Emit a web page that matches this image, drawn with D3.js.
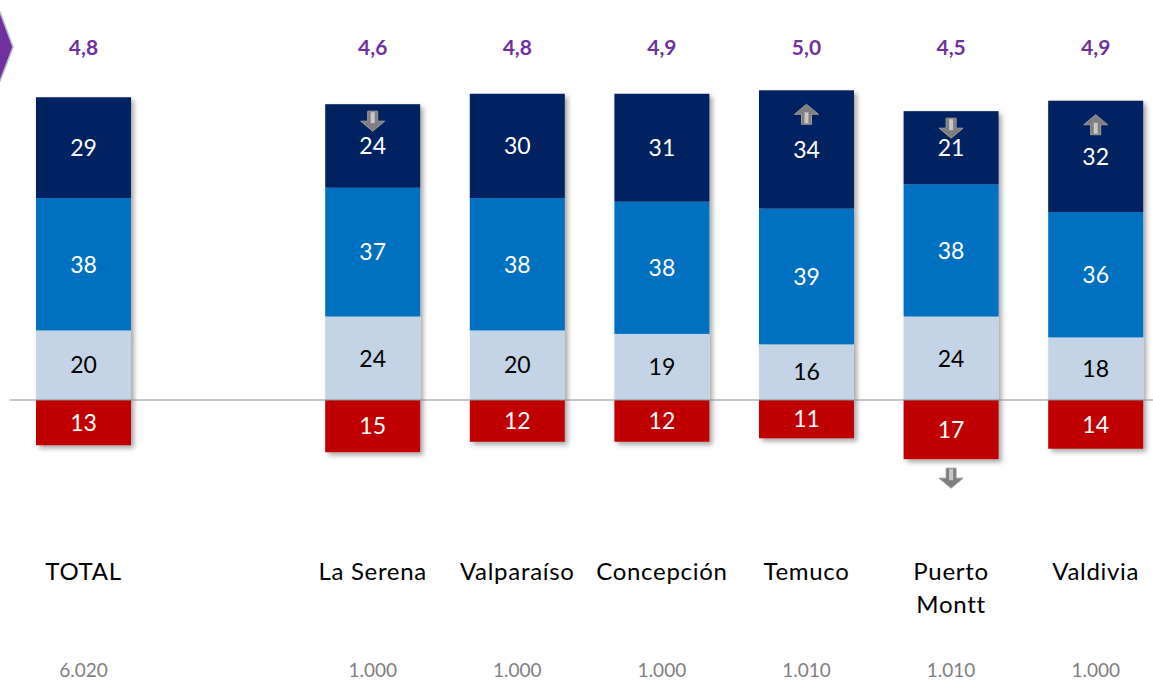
<!DOCTYPE html>
<html>
<head>
<meta charset="utf-8">
<script src="https://cdn.jsdelivr.net/npm/d3@7"></script>
<style>
  body { margin: 0; background: #fff; }
  svg { display: block; font-family: Lato, "Open Sans", sans-serif; }
</style>
</head>
<body>
<svg id="chart" width="1153" height="682"></svg>
<script>
// slots: "" is the empty gap after TOTAL
var slots = ['TOTAL', '', 'La Serena', 'Valparaíso', 'Concepción', 'Temuco', 'Puerto Montt', 'Valdivia'];
var categories = ['TOTAL', 'La Serena', 'Valparaíso', 'Concepción', 'Temuco', 'Puerto Montt', 'Valdivia'];
var catLines = [['TOTAL'], ['La Serena'], ['Valparaíso'], ['Concepción'], ['Temuco'], ['Puerto', 'Montt'], ['Valdivia']];
var negative = [13, 15, 12, 12, 11, 17, 14];
var lightPos = [20, 24, 20, 19, 16, 24, 18];
var midPos = [38, 37, 38, 38, 39, 38, 36];
var topPos = [29, 24, 30, 31, 34, 21, 32];
var means = ['4,8', '4,6', '4,8', '4,9', '5,0', '4,5', '4,9'];
var baseN = ['6.020', '1.000', '1.000', '1.000', '1.010', '1.010', '1.000'];
var topArrow = ['', 'down', '', '', 'up', 'down', 'up'];
var bottomArrow = ['', '', '', '', '', 'down', ''];

var colors = { neg: '#C00000', light: '#C3D4E6', mid: '#0070C0', top: '#002060' };

var svg = d3.select('#chart');
var x = d3.scaleBand().domain(slots).range([11.2, 1168]).paddingInner(49.6 / 144.6).paddingOuter(24.8 / 144.6);
var y = d3.scaleLinear().domain([0, 100]).range([400, 52]);

var defs = svg.append('defs');
var f = defs.append('filter').attr('id', 'shadow').attr('x', '-20%').attr('y', '-20%').attr('width', '150%').attr('height', '150%');
f.append('feDropShadow').attr('dx', 3).attr('dy', 3).attr('stdDeviation', 2.5).attr('flood-color', '#000').attr('flood-opacity', 0.35);

// purple chevron on the left edge
svg.append('path')
  .attr('d', 'M-20,12 L0,12 L13,47 L0,81 L-20,81 Z')
  .attr('fill', '#7030A0')
  .attr('stroke', '#b9b9c9')
  .attr('stroke-width', 1.5);

// build segments
var segs = [];
categories.forEach(function(c, i) {
  segs.push({ cat: c, y0: -negative[i], y1: 0, v: negative[i], color: colors.neg, text: '#fff' });
  var a = lightPos[i], b = a + midPos[i], t = b + topPos[i];
  segs.push({ cat: c, y0: 0, y1: a, v: lightPos[i], color: colors.light, text: '#000' });
  segs.push({ cat: c, y0: a, y1: b, v: midPos[i], color: colors.mid, text: '#fff' });
  segs.push({ cat: c, y0: b, y1: t, v: topPos[i], color: colors.top, text: '#fff' });
});

// bars with shadow
var bars = svg.append('g').attr('filter', 'url(#shadow)');
categories.forEach(function(c, i) {
  var g = bars.append('g');
  g.selectAll('rect').data(segs.filter(function(s) { return s.cat === c; })).enter().append('rect')
    .attr('x', function(s) { return x(s.cat); })
    .attr('width', x.bandwidth())
    .attr('y', function(s) { return y(s.y1); })
    .attr('height', function(s) { return y(s.y0) - y(s.y1); })
    .attr('fill', function(s) { return s.color; });
});

// baseline
svg.append('line').attr('x1', 10).attr('x2', 1153).attr('y1', y(0)).attr('y2', y(0))
  .attr('stroke', '#8c8c8c').attr('stroke-width', 1);

// segment labels
svg.append('g').selectAll('text').data(segs).enter().append('text')
  .attr('x', function(s) { return x(s.cat) + x.bandwidth() / 2; })
  .attr('y', function(s) { return (y(s.y0) + y(s.y1)) / 2; })
  .attr('dy', '0.36em')
  .attr('text-anchor', 'middle')
  .attr('fill', function(s) { return s.text; })
  .style('font-size', '23px')
  .text(function(s) { return s.v; });

// means
svg.append('g').selectAll('text').data(categories).enter().append('text')
  .attr('x', function(c) { return x(c) + x.bandwidth() / 2; })
  .attr('y', 47)
  .attr('dy', '0.36em')
  .attr('text-anchor', 'middle')
  .attr('fill', '#7030A0')
  .style('font-size', '21px')
  .style('font-weight', 'bold')
  .text(function(c, i) { return means[i]; });

// category labels
var cl = svg.append('g').selectAll('text').data(categories).enter().append('text')
  .attr('x', function(c) { return x(c) + x.bandwidth() / 2; })
  .attr('y', 580)
  .attr('text-anchor', 'middle')
  .attr('fill', '#000')
  .style('font-size', '24px')
  .style('letter-spacing', '0.7px');
cl.each(function(c, i) {
  var t = d3.select(this);
  catLines[i].forEach(function(line, j) {
    t.append('tspan').attr('x', x(c) + x.bandwidth() / 2).attr('dy', j === 0 ? 0 : 33).text(line);
  });
});

// base sizes
svg.append('g').selectAll('text').data(categories).enter().append('text')
  .attr('x', function(c) { return x(c) + x.bandwidth() / 2; })
  .attr('y', 677)
  .attr('text-anchor', 'middle')
  .attr('fill', '#7f7f7f')
  .style('font-size', '19px')
  .text(function(c, i) { return baseN[i]; });

// gray block arrows
function arrowPath(cx, cy, dir) {
  var s = dir === 'up' ? -1 : 1;
  var pts = [[-5, -10], [5, -10], [5, 0], [12, 0], [0, 10], [-12, 0], [-5, 0]];
  return 'M' + pts.map(function(p) { return [cx + p[0], cy + p[1] * s].join(','); }).join('L') + 'Z';
}
var arrows = [];
categories.forEach(function(c, i) {
  var cx = x(c) + x.bandwidth() / 2;
  var top = y(lightPos[i] + midPos[i] + topPos[i]);
  if (topArrow[i]) arrows.push({ cx: cx, cy: top + (topArrow[i] === 'up' ? 24 : 17), dir: topArrow[i] });
  if (bottomArrow[i]) arrows.push({ cx: cx, cy: y(-negative[i]) + 19, dir: bottomArrow[i] });
});
var ag = svg.append('g');
ag.selectAll('path.a').data(arrows).enter().append('path')
  .attr('class', 'a')
  .attr('d', function(a) { return arrowPath(a.cx, a.cy, a.dir); })
  .attr('fill', '#7f7f7f')
  .attr('stroke', '#9a9a9a')
  .attr('stroke-width', 1);
ag.selectAll('rect.h').data(arrows).enter().append('rect')
  .attr('class', 'h')
  .attr('x', function(a) { return a.cx - 2; })
  .attr('y', function(a) { return a.dir === 'up' ? a.cy - 2 : a.cy - 9; })
  .attr('width', 4).attr('height', 11)
  .attr('fill', '#c8c8c8');
</script>
</body>
</html>
